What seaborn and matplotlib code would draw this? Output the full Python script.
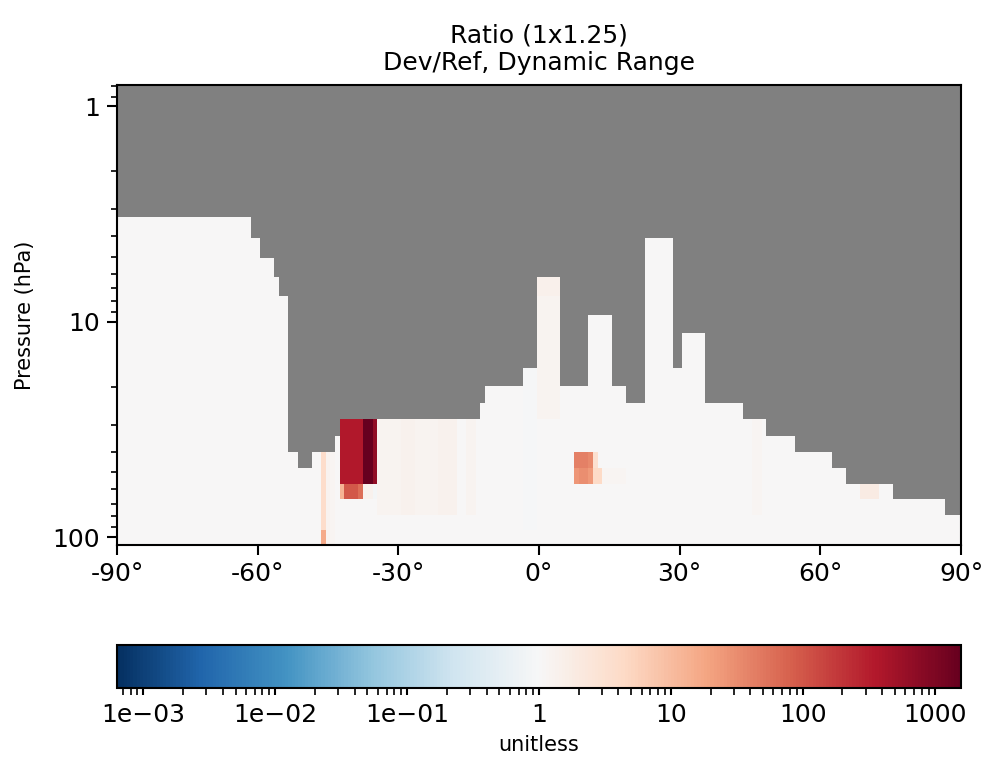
"""
Zonal-mean ratio plot (Dev/Ref) on GEOS 72-level pressure edges,
log pressure axis, symmetric log colour range (dynamic range).
"""

import numpy as np
import matplotlib
matplotlib.use("Agg")
import matplotlib.pyplot as plt
import seaborn as sns
from matplotlib.colors import LogNorm
from matplotlib.ticker import NullFormatter

# ================= DATA =================
# GEOS 72-level edge pressures inside the plotted range (hPa), top -> bottom
PRESSURE_EDGES = [
    0.7951, 1.0194, 1.3005, 1.6508, 2.0850, 2.6202, 3.2764, 4.0766,
    5.0468, 6.2168, 7.6198, 9.2929, 11.2769, 13.6434, 16.4571, 19.7916,
    23.7304, 28.3678, 33.8100, 40.1754, 47.6439, 56.3879, 66.6034,
    78.5123, 92.3657, 108.663,
]

# 1x1.25 grid latitudes (cell centres)
LAT_CENTERS = np.arange(-90, 91)

# top of valid data (hPa) for each latitude band; above it the value is missing
TOP_LAT_EDGES = [
    -90, -61.5, -59.5, -56.5, -55.5, -53.5, -51.5, -48.5, -43.5, -42.5,
    -12.5, -11.5, -3.5, -0.5, 4.5, 10.5, 15.5, 18.5, 22.5, 28.5, 30.5,
    35.5, 43.5, 48.5, 54.5, 62.5, 65.5, 75.5, 86.5, 90,
]
TOP_PRESSURE = [
    3.2764, 4.0766, 5.0468, 6.2168, 7.6198, 40.1754, 47.6439, 40.1754,
    33.8100, 28.3678, 23.7304, 19.7916, 16.4571, 6.2168, 19.7916, 9.2929,
    19.7916, 23.7304, 4.0766, 16.4571, 11.2769, 23.7304, 28.3678, 33.8100,
    40.1754, 47.6439, 56.3879, 66.6034, 78.5123,
]

# regions where Dev/Ref departs from 1 (lat band, pressure band, ratio)
PATCH_LAT_LO = [
    -34.5, -29.5, -26.5, -21.5, -17.5, -15.5,
    -46.5, -46.5, -45.5, -44.5,
    -42.5, -37.5, -35.5,
    -42.5, -41.5, -38.5, -37.5, -35.5,
    -0.5, -0.5, -3.5,
    7.5, 10.5, 11.5, 7.5, 8.5, 10.5, 11.5, 13.5,
    45.5, 68.5,
]
PATCH_LAT_HI = [
    -29.5, -26.5, -21.5, -17.5, -15.5, -13.5,
    -45.5, -45.5, -44.5, -43.5,
    -37.5, -35.5, -34.5,
    -41.5, -38.5, -37.5, -35.5, -34.5,
    4.5, 4.5, -0.5,
    10.5, 11.5, 12.5, 8.5, 10.5, 11.5, 13.5, 18.5,
    47.5, 72.5,
]
PATCH_P_TOP = [
    28.3678, 28.3678, 28.3678, 28.3678, 28.3678, 28.3678,
    40.1754, 92.3657, 40.1754, 40.1754,
    28.3678, 28.3678, 28.3678,
    56.3879, 56.3879, 56.3879, 56.3879, 56.3879,
    6.2168, 7.6198, 16.4571,
    40.1754, 40.1754, 40.1754, 47.6439, 47.6439, 47.6439, 47.6439, 47.6439,
    28.3678, 56.3879,
]
PATCH_P_BOT = [
    78.5123, 78.5123, 78.5123, 78.5123, 78.5123, 78.5123,
    92.3657, 108.663, 108.663, 108.663,
    56.3879, 56.3879, 56.3879,
    66.6034, 66.6034, 66.6034, 66.6034, 66.6034,
    7.6198, 28.3678, 92.3657,
    47.6439, 47.6439, 47.6439, 56.3879, 56.3879, 56.3879, 56.3879, 56.3879,
    78.5123, 66.6034,
]
PATCH_RATIO = [
    1.2, 1.35, 1.2, 1.35, 1.05, 1.25,
    3.8, 16.0, 1.3, 1.15,
    360.0, 1585.0, 700.0,
    13.0, 100.0, 60.0, 1.35, 0.85,
    1.45, 1.25, 0.93,
    42.0, 35.0, 3.3, 26.0, 31.0, 25.0, 4.4, 1.15,
    1.15, 1.8,
]

CBAR_TICKS = [1e-3, 1e-2, 1e-1, 1, 10, 100, 1000]
CBAR_LABELS = ["1e\u221203", "1e\u221202", "1e\u221201", "1", "10", "100", "1000"]
LAT_TICKS = [-90, -60, -30, 0, 30, 60, 90]
P_TICKS = [1, 10, 100]
# ========================================


def build_ratio():
    p_edges = np.array(PRESSURE_EDGES)
    p_mid = np.sqrt(p_edges[:-1] * p_edges[1:])
    ratio = np.full((len(p_mid), len(LAT_CENTERS)), np.nan)

    for lo, hi, top in zip(TOP_LAT_EDGES[:-1], TOP_LAT_EDGES[1:], TOP_PRESSURE):
        cols = (LAT_CENTERS >= lo) & (LAT_CENTERS <= hi)
        rows = p_mid > top
        ratio[np.ix_(rows, cols)] = 1.0

    for lo, hi, ptop, pbot, val in zip(PATCH_LAT_LO, PATCH_LAT_HI,
                                       PATCH_P_TOP, PATCH_P_BOT, PATCH_RATIO):
        cols = (LAT_CENTERS >= lo) & (LAT_CENTERS <= hi)
        rows = (p_mid > ptop) & (p_mid < pbot)
        ratio[np.ix_(rows, cols)] = val

    return np.ma.masked_invalid(ratio)


def main():
    sns.set_style("ticks")
    plt.rcParams["font.family"] = ["DejaVu Sans"]
    for key in ["text.color", "axes.labelcolor", "axes.edgecolor",
                "xtick.color", "ytick.color"]:
        plt.rcParams[key] = "black"

    ratio = build_ratio()
    lat_edges = np.concatenate(
        [[-90.0], (LAT_CENTERS[:-1] + LAT_CENTERS[1:]) / 2.0, [90.0]]
    )

    # dynamic range, symmetric about 1 in log space
    vmax = float(ratio.max())
    vmin = 1.0 / vmax

    cmap = sns.color_palette("RdBu_r", as_cmap=True).copy()
    cmap.set_bad("gray")
    norm = LogNorm(vmin=vmin, vmax=vmax)

    fig = plt.figure(figsize=(6.58, 5.1), dpi=150)
    ax = fig.add_axes([117 / 987, 220 / 765, 844 / 987, 460 / 765])
    ax.set_facecolor("gray")

    mesh = ax.pcolormesh(lat_edges, PRESSURE_EDGES, ratio,
                         cmap=cmap, norm=norm, shading="flat")

    ax.set_yscale("log")
    ax.set_ylim(PRESSURE_EDGES[-1], PRESSURE_EDGES[0])
    ax.set_yticks(P_TICKS, labels=[str(p) for p in P_TICKS])
    ax.yaxis.set_minor_formatter(NullFormatter())
    ax.set_xlim(-90, 90)
    ax.set_xticks(LAT_TICKS, labels=[f"{v}°" for v in LAT_TICKS])
    ax.xaxis.set_minor_locator(plt.NullLocator())

    for spine in ax.spines.values():
        spine.set_linewidth(1.0)
        spine.set_color("black")
    ax.tick_params(which="major", length=4.8, width=1.0, labelsize=12,
                   color="black", labelcolor="black")
    ax.tick_params(which="minor", length=3.0, width=0.8, color="black")

    ax.set_ylabel("Pressure (hPa)", fontsize=10, labelpad=8, color="black")
    ax.set_title("Ratio (1x1.25)\nDev/Ref, Dynamic Range", fontsize=12, pad=7,
                 color="black")

    cax = fig.add_axes([117 / 987, 77 / 765, 844 / 987, 43 / 765])
    cbar = fig.colorbar(mesh, cax=cax, orientation="horizontal")
    cbar.set_ticks(CBAR_TICKS, labels=CBAR_LABELS)
    cbar.ax.xaxis.set_minor_formatter(NullFormatter())
    cbar.ax.tick_params(which="major", length=3.5, width=1.0, labelsize=12,
                        color="black", labelcolor="black")
    cbar.ax.tick_params(which="minor", length=3.5, width=0.8, color="black")
    cbar.outline.set_linewidth(1.0)
    cbar.outline.set_edgecolor("black")
    cbar.set_label("unitless", fontsize=10, color="black")

    fig.savefig("out.png", dpi=150)
    plt.close(fig)


if __name__ == "__main__":
    main()
